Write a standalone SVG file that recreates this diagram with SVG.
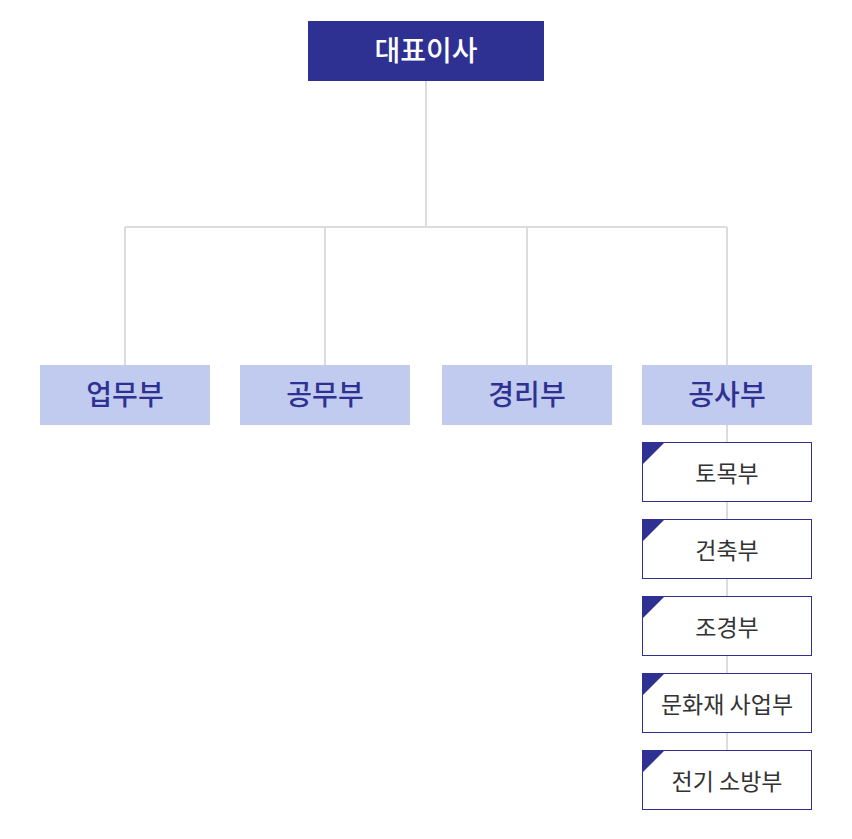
<svg xmlns="http://www.w3.org/2000/svg" width="852" height="839" viewBox="0 0 852 839">
<style>
text{font-family:"Noto Sans CJK KR","Noto Sans",sans-serif;text-anchor:middle;dominant-baseline:central}
.top{fill:#2e3192}
.top-t{fill:#fff;font-size:28px;font-weight:500}
.dept{fill:#c1caef}
.dept-t{fill:#2e3192;font-size:28px;font-weight:500}
.sub{fill:#fff;stroke:#2e3192;stroke-width:1}
.sub-t{fill:#333;font-size:23px}
.tri{fill:#2e3192}
.ln{stroke:#dcdcdc;stroke-width:2;fill:none}
</style>
<rect width="852" height="839" fill="#fff"/>
<g id="connectors">
<path class="ln" d="M426 81V227M125 227H727M125 227V365M325 227V365M527 227V365M727 227V365M727 425V750"/>
</g>
<g id="ceo"><rect class="top" x="308" y="21" width="236" height="60"/><text class="top-t" x="426" y="49">대표이사</text></g>
<g id="d1"><rect class="dept" x="40" y="365" width="170" height="60"/><text class="dept-t" x="125" y="393">업무부</text></g>
<g id="d2"><rect class="dept" x="240" y="365" width="170" height="60"/><text class="dept-t" x="325" y="393">공무부</text></g>
<g id="d3"><rect class="dept" x="442" y="365" width="170" height="60"/><text class="dept-t" x="527" y="393">경리부</text></g>
<g id="d4"><rect class="dept" x="642" y="365" width="170" height="60"/><text class="dept-t" x="727" y="393">공사부</text></g>
<g id="s1"><rect class="sub" x="642.5" y="442.5" width="169" height="59"/><path class="tri" d="M642 442h23l-23 23z"/><text class="sub-t" x="727" y="472">토목부</text></g>
<g id="s2"><rect class="sub" x="642.5" y="519.5" width="169" height="59"/><path class="tri" d="M642 519h23l-23 23z"/><text class="sub-t" x="727" y="549">건축부</text></g>
<g id="s3"><rect class="sub" x="642.5" y="596.5" width="169" height="59"/><path class="tri" d="M642 596h23l-23 23z"/><text class="sub-t" x="727" y="626">조경부</text></g>
<g id="s4"><rect class="sub" x="642.5" y="673.5" width="169" height="59"/><path class="tri" d="M642 673h23l-23 23z"/><text class="sub-t" x="727" y="703">문화재 사업부</text></g>
<g id="s5"><rect class="sub" x="642.5" y="750.5" width="169" height="59"/><path class="tri" d="M642 750h23l-23 23z"/><text class="sub-t" x="727" y="780">전기 소방부</text></g>
</svg>
